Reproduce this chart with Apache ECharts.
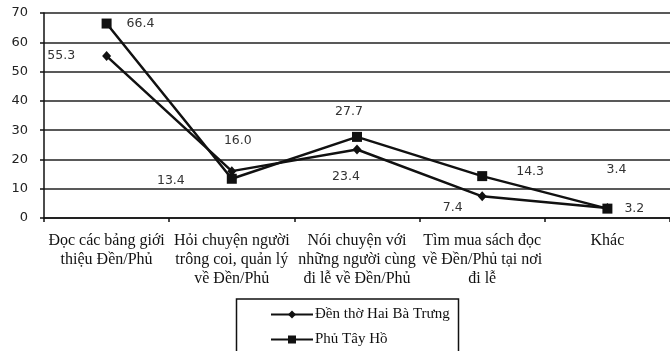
<!DOCTYPE html>
<html><head><meta charset="utf-8">
<script src="https://cdn.jsdelivr.net/npm/echarts@6/dist/echarts.min.js"></script>
<style>html,body{margin:0;padding:0;background:#fff}#c{width:670px;height:351px}</style>
</head><body><div id="c"></div>
<script>
var categories = [
  "Đọc các bảng giới\nthiệu Đền/Phủ",
  "Hỏi chuyện người\ntrông coi, quản lý\nvề Đền/Phủ",
  "Nói chuyện với\nnhững người cùng\nđi lễ về Đền/Phủ",
  "Tìm mua sách đọc\nvề Đền/Phủ tại nơi\nđi lễ",
  "Khác"
];
var seriesNames = ["Đền thờ Hai Bà Trưng", "Phủ Tây Hồ"];
var haiBaTrung = [55.3, 16.0, 23.4, 7.4, 3.4];
var phuTayHo = [66.4, 13.4, 27.7, 14.3, 3.2];
var yTicks = [0, 10, 20, 30, 40, 50, 60, 70];

// label placement (style)
var lblA = [
  {position:'left', distance:27, offset:[0,0]},
  {position:'top', distance:19, offset:[6,0]},
  {position:'bottom', distance:16, offset:[-11,0]},
  {position:'left', distance:15, offset:[0,11]},
  {position:'top', distance:27, offset:[9,0]}
];
var lblB = [
  {position:'right', distance:15, offset:[0,0]},
  {position:'left', distance:42, offset:[0,2]},
  {position:'top', distance:14, offset:[-8,0]},
  {position:'right', distance:29, offset:[0,-4]},
  {position:'right', distance:12, offset:[0,0]}
];
function build(vals, lbls){
  return vals.map(function(v,i){
    return {value:v, label:{show:true, position:lbls[i].position, distance:lbls[i].distance, offset:lbls[i].offset}};
  });
}
var labelStyle = {fontFamily:'DejaVu Sans', fontSize:12.5, color:'#333', formatter:function(p){return p.value.toFixed(1);}};

var chart = echarts.init(document.getElementById('c'));
chart.setOption({
  animation:false,
  grid:{left:44, right:0, top:13, bottom:133, containLabel:false},
  xAxis:{
    type:'category', data:categories, boundaryGap:true,
    axisLine:{lineStyle:{color:'#111', width:1.5}},
    axisTick:{show:true, length:4, alignWithLabel:false, lineStyle:{color:'#111', width:1.5}},
    axisLabel:{interval:0, margin:13, fontFamily:'Liberation Serif', fontSize:16, color:'#111', lineHeight:19}
  },
  yAxis:{
    type:'value', min:yTicks[0], max:yTicks[yTicks.length-1], interval:10,
    axisLine:{show:true, lineStyle:{color:'#111', width:1.5}},
    axisTick:{show:true, length:4, lineStyle:{color:'#111', width:1.5}},
    axisLabel:{margin:16, fontFamily:'DejaVu Sans', fontSize:13, color:'#222'},
    splitLine:{show:true, lineStyle:{color:'#222', width:1.5}}
  },
  legend:{
    orient:'vertical', left:270, top:307, height:60, padding:0, itemGap:10, itemWidth:42, itemHeight:10,
    textStyle:{fontFamily:'Liberation Serif', fontSize:15, color:'#111', padding:[0,0,0,-3]},
    data:[{name:seriesNames[0]},{name:seriesNames[1]}]
  },
  graphic:[{type:'rect', shape:{x:236.5, y:299, width:222, height:60}, style:{fill:'none', stroke:'#111', lineWidth:1.5}, z:100}],
  series:[
    {name:seriesNames[0], type:'line', data:build(haiBaTrung, lblA), symbol:'diamond', symbolSize:[9,10],
     lineStyle:{color:'#111', width:2.5}, itemStyle:{color:'#111'}, label:labelStyle, z:3},
    {name:seriesNames[1], type:'line', data:build(phuTayHo, lblB), symbol:'rect', symbolSize:10,
     lineStyle:{color:'#111', width:2.5}, itemStyle:{color:'#111'}, label:labelStyle, z:2}
  ]
});
</script></body></html>
